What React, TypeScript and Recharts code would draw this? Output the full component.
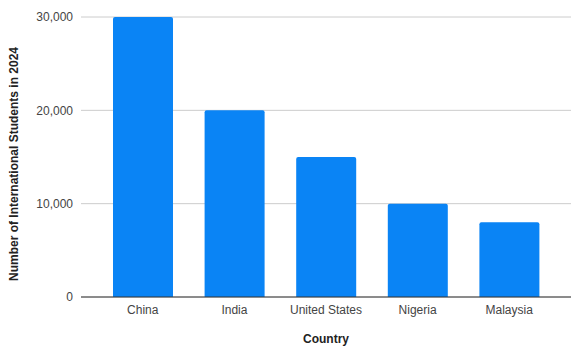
import { Bar, BarChart, CartesianGrid, XAxis, YAxis } from "recharts";

const countries = ["China", "India", "United States", "Nigeria", "Malaysia"];
const students = [30000, 20000, 15000, 10000, 8000];
const yTicks = [0, 10000, 20000, 30000];

const data = countries.map((country, i) => ({ country, students: students[i] }));

const font = "'Liberation Sans', Arial, sans-serif";

function YLabel(props: any) {
  const vb = props.viewBox || { x: 0, y: 0, width: 0, height: 0 };
  const cx = vb.x + 14;
  const cy = vb.y + vb.height / 2 + 7;
  return (
    <text
      x={cx}
      y={cy}
      transform={`rotate(-90, ${cx}, ${cy})`}
      textAnchor="middle"
      dominantBaseline="central"
      fontFamily={font}
      fontSize={12}
      fontWeight="bold"
      fill="#222"
    >
      Number of International Students in 2024
    </text>
  );
}

export default function App() {
  return (
    <div style={{ position: "absolute", left: 0, top: 0, background: "#fff" }}>
      <BarChart
        width={584}
        height={351}
        data={data}
        margin={{ top: 17, right: 13, bottom: 0, left: 0 }}
        barCategoryGap={16}
      >
        <CartesianGrid vertical={false} stroke="#cccccc" />
        <XAxis
          dataKey="country"
          height={54}
          padding={{ left: 16, right: 16 }}
          tickLine={false}
          axisLine={{ stroke: "#333333" }}
          tick={{ fill: "#444444", fontSize: 12, fontFamily: font }}
          label={{
            value: "Country",
            position: "insideBottom",
            offset: 8,
            fill: "#222",
            fontSize: 12,
            fontWeight: "bold",
            fontFamily: font,
          }}
        />
        <YAxis
          width={81}
          domain={[0, 30000]}
          ticks={yTicks}
          tickLine={false}
          axisLine={false}
          tickFormatter={(v: number) => v.toLocaleString("en-US")}
          tick={{ fill: "#444444", fontSize: 12, fontFamily: font }}
          label={(p: any) => <YLabel {...p} />}
        />
        <Bar dataKey="students" fill="#0a84f5" radius={[2, 2, 0, 0]} isAnimationActive={false} />
      </BarChart>
    </div>
  );
}
